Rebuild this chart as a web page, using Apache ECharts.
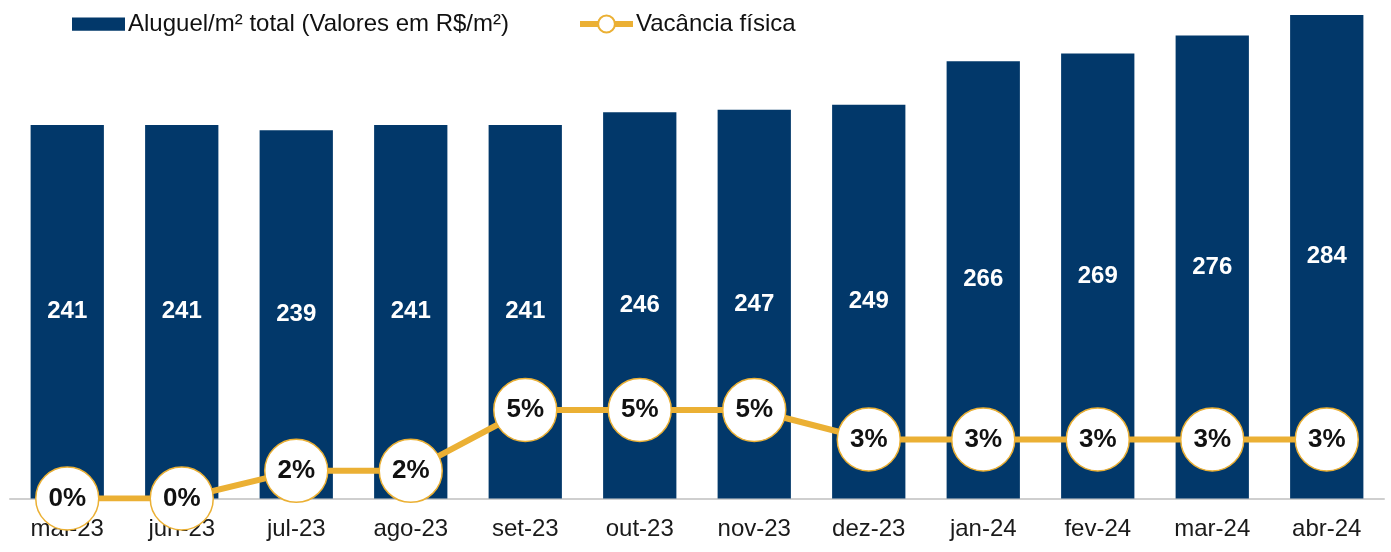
<!DOCTYPE html>
<html>
<head>
<meta charset="utf-8">
<script src="https://cdn.jsdelivr.net/npm/echarts@6/dist/echarts.min.js"></script>
<style>
  html, body { margin: 0; padding: 0; background: #fff; }
  #chart { width: 1391px; height: 552px; }
</style>
</head>
<body>
<div id="chart"></div>
<script>
const months = ['mai-23', 'jun-23', 'jul-23', 'ago-23', 'set-23', 'out-23', 'nov-23', 'dez-23', 'jan-24', 'fev-24', 'mar-24', 'abr-24']
const rentPerM2 = [241, 241, 239, 241, 241, 246, 247, 249, 266, 269, 276, 284]
// vacância em %, rótulos arredondados
const vacancy = [0, 0, 1.5, 1.5, 4.8, 4.8, 4.8, 3.2, 3.2, 3.2, 3.2, 3.2]

const NAVY = '#02386a'
const GOLD = '#ebb034'
const FONT = '"Liberation Sans", Arial, Helvetica, sans-serif'

const chart = echarts.init(document.getElementById('chart'))

chart.setOption({
  animation: false,
  textStyle: { fontFamily: FONT },
  legend: {
    left: 67,
    top: 7,
    itemWidth: 53,
    itemHeight: 21,
    itemGap: 68,
    textStyle: { fontSize: 24, color: '#111', fontFamily: FONT, padding: [0, 0, 0, -2] },
    data: [
      { name: 'Aluguel/m² total (Valores em R$/m²)', icon: 'path://M0,0H52V13H0Z' },
      { name: 'Vacância física', lineStyle: { width: 6 } },
    ],
  },
  grid: { left: 10, right: 7, top: 10, bottom: 53.5 },
  xAxis: {
    type: 'category',
    data: months,
    axisLine: { lineStyle: { color: '#cfcfcf', width: 2 } },
    axisTick: { show: false },
    axisLabel: { color: '#1a1a1a', fontSize: 24, margin: 19, fontFamily: FONT },
  },
  yAxis: [
    { type: 'value', min: 95, max: 286, show: false },
    { type: 'value', min: 0, max: 26.5, show: false },
  ],
  series: [
    {
      name: 'Aluguel/m² total (Valores em R$/m²)',
      type: 'bar',
      data: rentPerM2,
      barWidth: '64%',
      itemStyle: { color: NAVY },
      label: {
        show: true,
        position: 'inside',
        color: '#fff',
        fontWeight: 'bold',
        fontSize: 24,
        fontFamily: FONT,
      },
    },
    {
      name: 'Vacância física',
      type: 'line',
      yAxisIndex: 1,
      data: vacancy,
      symbol: 'circle',
      symbolSize: 63,
      z: 5,
      lineStyle: { color: GOLD, width: 6 },
      itemStyle: { color: '#fff', borderColor: GOLD, borderWidth: 1.5 },
      label: {
        show: true,
        position: 'inside',
        color: '#111',
        fontWeight: 'bold',
        fontSize: 26,
        fontFamily: FONT,
        formatter: (p) => Math.round(p.value) + '%',
      },
    },
  ],
})
</script>
</body>
</html>
